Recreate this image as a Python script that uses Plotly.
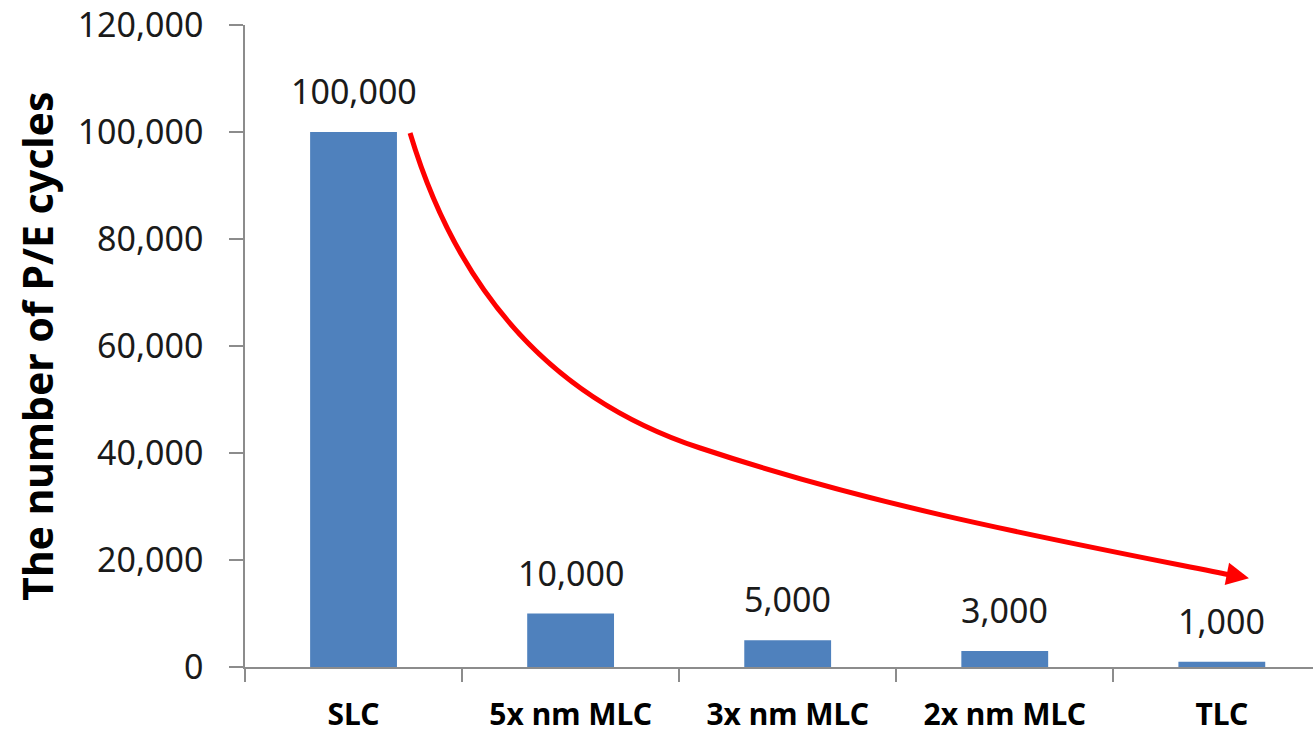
import plotly.graph_objects as go

# Endurance by NAND cell type
categories = ["SLC", "5x nm MLC", "3x nm MLC", "2x nm MLC", "TLC"]
pe_cycles = [100000, 10000, 5000, 3000, 1000]
y_ticks = [0, 20000, 40000, 60000, 80000, 100000, 120000]

# Decorative downward trend arrow: two cubic Bezier segments
# (start, control, control, end, control, control, end) in (category index, cycles)
trend_x = [0.2604, 0.4908, 0.9516, 1.5968, 2.4263, 3.2327, 4.0622]
trend_y = [99815, 68600, 49534, 40935, 29720, 23739, 17010]

BAR = "#4F81BD"
AXIS = "#8C8C8C"
RED = "#FF0000"
FONT = "Noto Sans"

fig = go.Figure()
fig.add_trace(go.Bar(
    x=list(range(len(categories))), y=pe_cycles, width=0.4,
    marker=dict(color=BAR, line=dict(width=0)),
    hoverinfo="skip",
))

pts = [f"{x},{y}" for x, y in zip(trend_x, trend_y)]
path = f"M {pts[0]} C {pts[1]} {pts[2]} {pts[3]} C {pts[4]} {pts[5]} {pts[6]}"
fig.add_shape(type="path", path=path, xref="x", yref="y",
              line=dict(color=RED, width=5), layer="above")

annotations = []
for i, v in enumerate(pe_cycles):
    annotations.append(dict(
        x=i, y=v, xref="x", yref="y", text=f"{v:,}", showarrow=False,
        yanchor="bottom", yshift=16,
        font=dict(family=FONT, size=34, color="#1a1a1a"),
    ))
# arrow head at the end of the trend curve
annotations.append(dict(
    x=4.125, y=16600, xref="x", yref="y",
    ax=trend_x[-1] - 0.02, ay=trend_y[-1] + 250, axref="x", ayref="y",
    showarrow=True, arrowhead=2, arrowsize=0.9, arrowwidth=5,
    arrowcolor=RED, text="",
))
# y-axis title
annotations.append(dict(
    x=-0.195, y=0.5, xref="paper", yref="paper", text="<b>The number of P/E cycles</b>",
    textangle=-90, showarrow=False, xanchor="center", yanchor="middle",
    font=dict(family=FONT, size=41, color="#000000"),
))

fig.update_layout(
    width=1313, height=736,
    margin=dict(l=245, r=0, t=25, b=69),
    paper_bgcolor="white", plot_bgcolor="white",
    showlegend=False,
    annotations=annotations,
    xaxis=dict(
        range=[-0.5, 4.42],
        tickmode="array", tickvals=list(range(len(categories))),
        ticktext=[f"<b>{c}</b>" for c in categories],
        ticks="", showline=True, linecolor=AXIS, linewidth=1.5,
        showgrid=False, zeroline=False,
        tickfont=dict(family=FONT, size=30, color="#000000"),
        ticklabelstandoff=20,
        minor=dict(tickvals=[-0.5, 0.5, 1.5, 2.5, 3.5], ticks="outside",
                   ticklen=13, tickcolor=AXIS, tickwidth=1.5),
    ),
    yaxis=dict(
        range=[0, 120000], tickvals=y_ticks,
        ticktext=[f"{t:,}" for t in y_ticks],
        ticks="outside", ticklen=14, tickcolor=AXIS, tickwidth=1.5,
        showline=True, linecolor=AXIS, linewidth=1.5,
        showgrid=False, zeroline=False,
        tickfont=dict(family=FONT, size=34, color="#1a1a1a"),
        ticklabelstandoff=19,
    ),
)

fig.write_html("out.html")
